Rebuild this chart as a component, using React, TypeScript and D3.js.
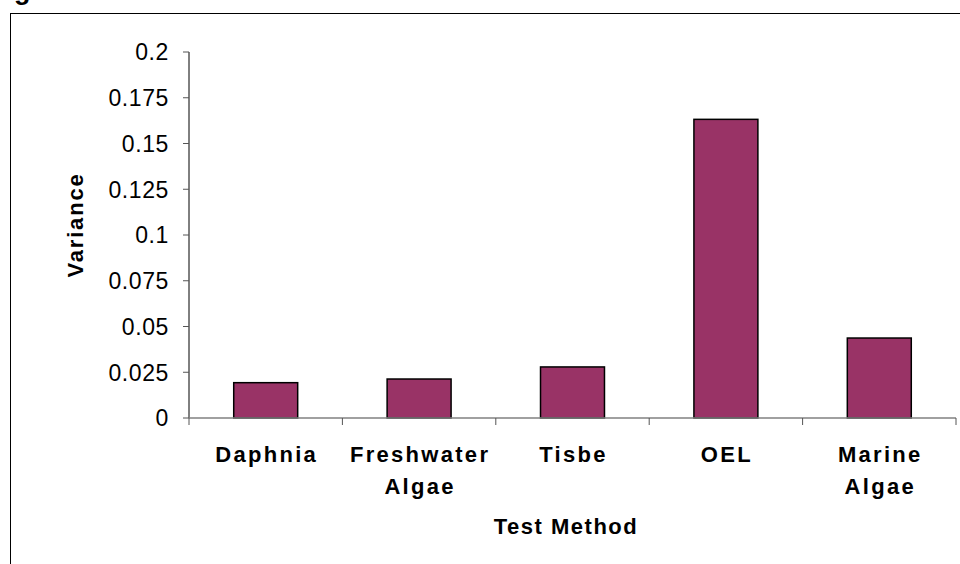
import React from "react";
import * as d3 from "d3";

const categories: string[][] = [["Daphnia"], ["Freshwater", "Algae"], ["Tisbe"], ["OEL"], ["Marine", "Algae"]];
const variance: number[] = [0.0193, 0.0213, 0.0279, 0.1632, 0.0437];
const yTicks: number[] = [0, 0.025, 0.05, 0.075, 0.1, 0.125, 0.15, 0.175, 0.2];
const xTitle = "Test Method";
const yTitle = "Variance";

export default function App() {
  const W = 960, H = 564;
  const left = 189, right = 956, top = 52, bottom = 418;
  const x = d3.scaleBand<number>().domain(d3.range(categories.length)).range([left, right]).paddingInner(0.583).paddingOuter(0.2915);
  const xb = d3.scaleBand<number>().domain(d3.range(categories.length)).range([left, right]);
  const y = d3.scaleLinear().domain([0, 0.2]).range([bottom, top]);
  const fmt = (v: number) => String(+v.toFixed(3));
  const font = "'Liberation Sans', Arial, sans-serif";
  return (
    <svg width={W} height={H} style={{ position: "absolute", left: 0, top: 0, background: "#fff" }} fontFamily={font}>
      <rect x={0} y={0} width={W} height={H} fill="#fff" />
      <text x={14} y={-1.5} fontSize={27} fontWeight="bold">g</text>
      <rect x={10.5} y={13.5} width={W} height={H} fill="none" stroke="#000" strokeWidth={1} />
      {/* bars */}
      {variance.map((v, i) => (
        <rect key={i} x={x(i)!} y={y(v)} width={x.bandwidth()} height={y(0) - y(v)} fill="#993366" stroke="#000" strokeWidth={1.5} />
      ))}
      {/* y axis */}
      <line x1={left} x2={left} y1={top} y2={bottom} stroke="#000" strokeWidth={1} />
      {yTicks.map((t) => (
        <g key={t}>
          <line x1={left - 6} x2={left} y1={y(t)} y2={y(t)} stroke="#555" strokeWidth={1} />
          <text x={169} y={y(t)} dy="0.36em" textAnchor="end" fontSize={23} letterSpacing={0.6}>{fmt(t)}</text>
        </g>
      ))}
      {/* x axis */}
      <line x1={left} x2={right} y1={bottom} y2={bottom} stroke="#808080" strokeWidth={1.5} />
      {d3.range(categories.length + 1).map((i) => {
        const px = i < categories.length ? xb(i)! : right;
        return <line key={i} x1={px} x2={px} y1={bottom} y2={bottom + 7} stroke="#555" strokeWidth={1} />;
      })}
      {categories.map((lines, i) => (
        <text key={i} textAnchor="middle" fontSize={22} fontWeight="bold" letterSpacing={2.3}>
          {lines.map((l, j) => (
            <tspan key={j} x={xb(i)! + xb.bandwidth() / 2 + 1} y={462 + j * 32}>{l}</tspan>
          ))}
        </text>
      ))}
      <text x={566} y={534} textAnchor="middle" fontSize={22} fontWeight="bold" letterSpacing={1.5}>{xTitle}</text>
      <text transform={`translate(83,225) rotate(-90)`} textAnchor="middle" fontSize={22} fontWeight="bold" letterSpacing={1.8}>{yTitle}</text>
    </svg>
  );
}
